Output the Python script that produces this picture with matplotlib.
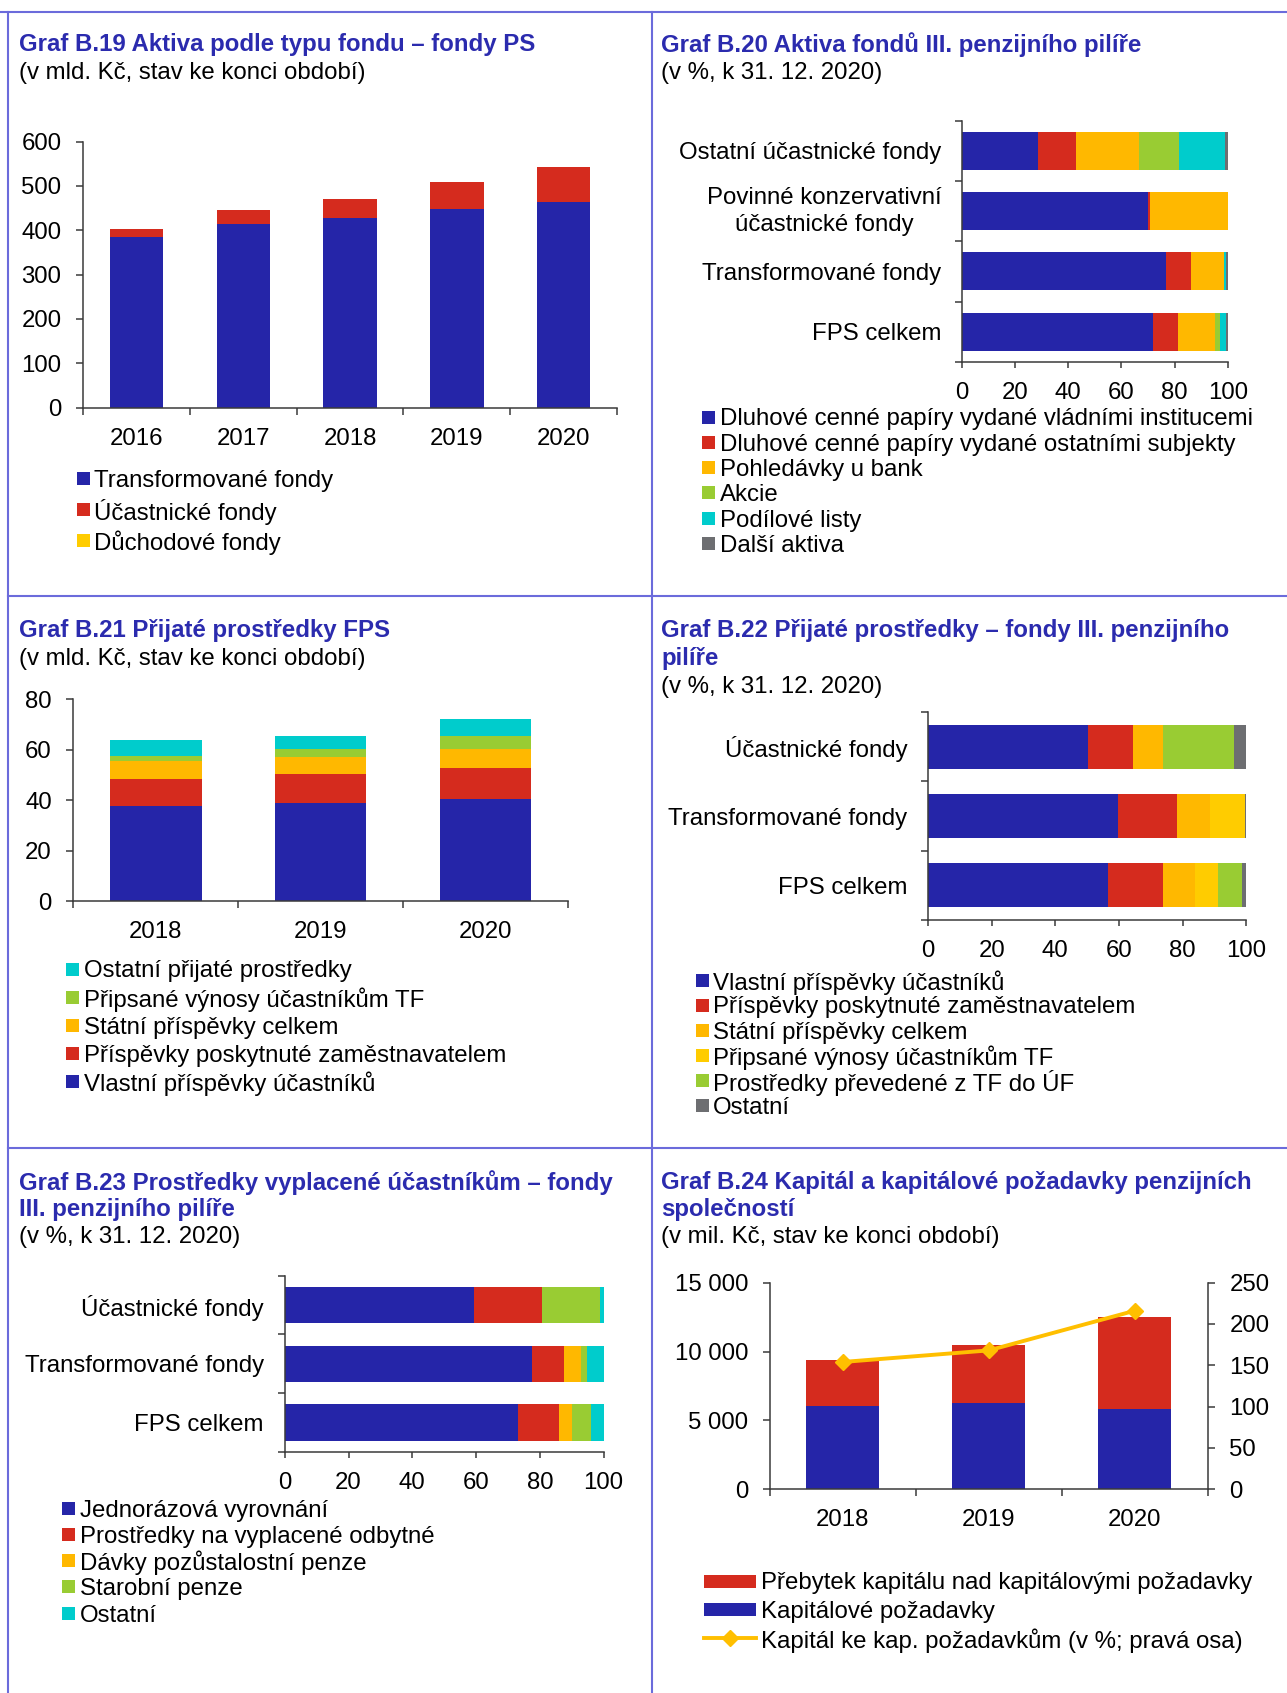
import matplotlib
matplotlib.use('Agg')
import matplotlib.pyplot as plt
from matplotlib.transforms import Affine2D
from matplotlib.patches import Rectangle
from matplotlib.lines import Line2D
import numpy as np

# ---------------- data ----------------
b19_years = ['2016', '2017', '2018', '2019', '2020']
b19_transform = [384, 414, 427, 447, 463]
b19_ucast = [19, 32, 44, 61, 79]
b19_duchod = [0, 0, 0, 0, 0]
b19_labels = ['Transformované fondy', 'Účastnické fondy', 'Důchodové fondy']

b20_cats = ['Ostatní účastnické fondy', 'Povinné konzervativní\núčastnické fondy',
            'Transformované fondy', 'FPS celkem']
b20_vladni = [28.7, 70.0, 76.9, 71.9]
b20_ostatni_subj = [14.3, 0.6, 9.3, 9.4]
b20_pohledavky = [23.8, 29.4, 12.3, 14.1]
b20_akcie = [15.0, 0.0, 0.2, 1.7]
b20_podilove = [17.1, 0.0, 0.8, 2.1]
b20_dalsi = [1.1, 0.0, 0.5, 0.8]
b20_labels = ['Dluhové cenné papíry vydané vládními institucemi',
              'Dluhové cenné papíry vydané ostatními subjekty',
              'Pohledávky u bank', 'Akcie', 'Podílové listy', 'Další aktiva']

b21_years = ['2018', '2019', '2020']
b21_vlastni = [37.9, 38.7, 40.6]
b21_zamest = [10.4, 11.5, 12.3]
b21_statni = [7.0, 7.0, 7.3]
b21_vynosy = [2.2, 3.2, 5.2]
b21_ostatni = [6.1, 5.0, 6.7]
b21_labels = ['Ostatní přijaté prostředky', 'Připsané výnosy účastníkům TF',
              'Státní příspěvky celkem', 'Příspěvky poskytnuté zaměstnavatelem',
              'Vlastní příspěvky účastníků']

b22_cats = ['Účastnické fondy', 'Transformované fondy', 'FPS celkem']
b22_vlastni = [50.1, 59.7, 56.5]
b22_zamest = [14.3, 18.6, 17.4]
b22_statni = [9.5, 10.3, 9.8]
b22_vynosy = [0.0, 11.1, 7.5]
b22_prevedene = [22.1, 0.0, 7.4]
b22_ostatni = [4.0, 0.3, 1.4]
b22_labels = ['Vlastní příspěvky účastníků', 'Příspěvky poskytnuté zaměstnavatelem',
              'Státní příspěvky celkem', 'Připsané výnosy účastníkům TF',
              'Prostředky převedené z TF do ÚF', 'Ostatní']

b23_cats = ['Účastnické fondy', 'Transformované fondy', 'FPS celkem']
b23_jednoraz = [59.3, 77.5, 73.2]
b23_odbytne = [21.3, 10.1, 12.8]
b23_pozustal = [0.0, 5.2, 4.0]
b23_starobni = [18.2, 2.1, 6.0]
b23_ostatni = [1.2, 5.1, 4.0]
b23_labels = ['Jednorázová vyrovnání', 'Prostředky na vyplacené odbytné',
              'Dávky pozůstalostní penze', 'Starobní penze', 'Ostatní']

b24_years = ['2018', '2019', '2020']
b24_pozadavky = [6080, 6230, 5800]
b24_prebytek = [3290, 4250, 6710]
b24_pomer = [154, 168, 216]
b24_labels = ['Přebytek kapitálu nad kapitálovými požadavky', 'Kapitálové požadavky',
              'Kapitál ke kap. požadavkům (v %; pravá osa)']
b24_yticks = [0, 5000, 10000, 15000]
b24_yticklabels = ['0', '5 000', '10 000', '15 000']

# ---------------- style ----------------
plt.rcParams['font.family'] = ['Liberation Sans', 'DejaVu Sans']
W, H = 1287, 1693
fig = plt.figure(figsize=(W / 100, H / 100), dpi=100)
PX = Affine2D().scale(1 / W, -1 / H).translate(0, 1) + fig.transFigure

BLUE = '#2525A8'; RED = '#D52B1E'; ORANGE = '#FFB800'; YELLOW = '#FFCC00'
GREEN = '#99CC33'; CYAN = '#00CCCC'; GRAY = '#6D6E71'
BORDER = '#6B6BDB'; TITLE = '#2B2BAE'; AXC = '#3a3a3a'; LINEC = '#FFBF00'
FS = 17.25
DY = 2.5  # vertical text offset (px)


def add_ax(x0, y0, x1, y1):
    return fig.add_axes([x0 / W, 1 - y1 / H, (x1 - x0) / W, (y1 - y0) / H])


def hline(x0, y0, x1, y1, **kw):
    fig.add_artist(Line2D([x0, x1], [y0, y1], transform=PX, **kw))


def ptext(x, y, s, **kw):
    kw.setdefault('fontsize', FS)
    kw.setdefault('va', 'center')
    fig.text(x, y + DY, s, transform=PX, **kw)


def titles(x, ys, lines):
    for i, (y, s) in enumerate(zip(ys, lines)):
        if i < len(lines) - 1:
            ptext(x, y, s, color=TITLE, fontweight='bold')
        else:
            ptext(x, y, s, color='black')


def legend(mx, tx, y0, dy, labels, colors, mw=13, mh=13):
    for i, (lab, col) in enumerate(zip(labels, colors)):
        y = y0 + i * dy
        fig.add_artist(Rectangle((mx, y - mh / 2), mw, mh, transform=PX,
                                 facecolor=col, edgecolor='none'))
        ptext(tx, y, lab, color='black')


def style(ax):
    for s in ['top', 'right']:
        ax.spines[s].set_visible(False)
    for s in ['left', 'bottom']:
        ax.spines[s].set_color(AXC)
        ax.spines[s].set_linewidth(1.1)
    ax.tick_params(which='both', colors=AXC, labelcolor='black', labelsize=FS, width=1.1)
    ax.set_facecolor('none')


def vbars(ax, cats, series, colors, width, ymax, ystep):
    x = np.arange(len(cats))
    bottom = np.zeros(len(cats))
    for vals, col in zip(series, colors):
        ax.bar(x, vals, width, bottom=bottom, color=col, edgecolor='none')
        bottom = bottom + np.array(vals)
    ax.set_xlim(-0.5, len(cats) - 0.5)
    ax.set_ylim(0, ymax)
    ax.set_yticks(np.arange(0, ymax + 1, ystep))
    ax.set_xticks(x)
    ax.set_xticklabels(cats)
    ax.set_xticks(np.arange(-0.5, len(cats), 1), minor=True)
    style(ax)
    ax.tick_params(axis='x', which='major', length=0, pad=14.4)
    ax.tick_params(axis='x', which='minor', length=5, direction='out')
    ax.tick_params(axis='y', which='major', length=5, direction='out', pad=10.5)


def hbars(ax, cats, series, colors, height):
    y = np.arange(len(cats))
    left = np.zeros(len(cats))
    for vals, col in zip(series, colors):
        ax.barh(y, vals, height, left=left, color=col, edgecolor='none')
        left = left + np.array(vals)
    ax.set_ylim(len(cats) - 0.5, -0.5)
    ax.set_xlim(0, 100)
    ax.set_xticks(range(0, 101, 20))
    ax.set_yticks(y)
    ax.set_yticklabels(cats, multialignment='center', linespacing=1.3)
    for lab in ax.get_yticklabels():
        if '\n' in lab.get_text():
            lab.set_verticalalignment('center')
    ax.set_yticks(np.arange(-0.5, len(cats), 1), minor=True)
    style(ax)
    ax.tick_params(axis='y', which='major', length=0, pad=15)
    ax.tick_params(axis='y', which='minor', length=4.7, direction='out')
    ax.tick_params(axis='x', which='major', length=4.5, direction='out', pad=10)


# ---------------- frame ----------------
bkw = dict(color=BORDER, linewidth=1.5)
hline(0, 12, W, 12, **bkw)
hline(8, 12, 8, H, **bkw)
hline(652, 12, 652, H, **bkw)
hline(8, 596, W, 596, **bkw)
hline(8, 1148, W, 1148, **bkw)

# ---------------- B.19 ----------------
titles(18.7, [42, 71], ['Graf B.19 Aktiva podle typu fondu – fondy PS',
                        '(v mld. Kč, stav ke konci období)'])
ax = add_ax(83, 141.6, 617, 407.6)
vbars(ax, b19_years, [b19_transform, b19_ucast, b19_duchod], [BLUE, RED, YELLOW], 0.5, 600, 100)
legend(77, 94.5, 478, 31.3, b19_labels, [BLUE, RED, YELLOW])

# ---------------- B.20 ----------------
titles(661, [42, 71], ['Graf B.20 Aktiva fondů III. penzijního pilíře',
                       '(v %, k 31. 12. 2020)'])
ax = add_ax(962, 120.5, 1227.7, 362)
hbars(ax, b20_cats, [b20_vladni, b20_ostatni_subj, b20_pohledavky, b20_akcie, b20_podilove, b20_dalsi],
      [BLUE, RED, ORANGE, GREEN, CYAN, GRAY], 0.63)
legend(702, 720, 417, 25.3, b20_labels, [BLUE, RED, ORANGE, GREEN, CYAN, GRAY])

# ---------------- B.21 ----------------
titles(18.7, [628, 656], ['Graf B.21 Přijaté prostředky FPS',
                          '(v mld. Kč, stav ke konci období)'])
ax = add_ax(73.4, 699, 568, 901.4)
vbars(ax, b21_years, [b21_vlastni, b21_zamest, b21_statni, b21_vynosy, b21_ostatni],
      [BLUE, RED, ORANGE, GREEN, CYAN], 0.555, 80, 20)
legend(66, 84, 969, 28.1, b21_labels, [CYAN, GREEN, ORANGE, RED, BLUE])

# ---------------- B.22 ----------------
titles(661, [628, 656, 684], ['Graf B.22 Přijaté prostředky – fondy III. penzijního',
                              'pilíře', '(v %, k 31. 12. 2020)'])
ax = add_ax(928, 712, 1246.4, 920)
hbars(ax, b22_cats, [b22_vlastni, b22_zamest, b22_statni, b22_vynosy, b22_prevedene, b22_ostatni],
      [BLUE, RED, ORANGE, YELLOW, GREEN, GRAY], 0.63)
legend(695.5, 713, 980, 25, b22_labels, [BLUE, RED, ORANGE, YELLOW, GREEN, GRAY])

# ---------------- B.23 ----------------
titles(18.7, [1180.5, 1207, 1235], ['Graf B.23 Prostředky vyplacené účastníkům – fondy',
                                    'III. penzijního pilíře', '(v %, k 31. 12. 2020)'])
ax = add_ax(284.8, 1275.7, 603.6, 1452)
hbars(ax, b23_cats, [b23_jednoraz, b23_odbytne, b23_pozustal, b23_starobni, b23_ostatni],
      [BLUE, RED, ORANGE, GREEN, CYAN], 0.62)
legend(62, 79.6, 1508, 26.3, b23_labels, [BLUE, RED, ORANGE, GREEN, CYAN])

# ---------------- B.24 ----------------
titles(661, [1180.5, 1207, 1235], ['Graf B.24 Kapitál a kapitálové požadavky penzijních',
                                   'společností', '(v mil. Kč, stav ke konci období)'])
ax = add_ax(769.8, 1282.6, 1207.8, 1489.3)
vbars(ax, b24_years, [b24_pozadavky, b24_prebytek], [BLUE, RED], 0.5, 15000, 5000)
ax.set_yticks(b24_yticks)
ax.set_yticklabels(b24_yticklabels)
ax2 = ax.twinx()
ax2.plot(np.arange(len(b24_years)), b24_pomer, color=LINEC, linewidth=2.8,
         marker='D', markersize=8, markerfacecolor=LINEC, markeredgecolor=LINEC)
ax2.set_ylim(0, 250)
ax2.set_yticks(range(0, 251, 50))
for s in ['top', 'left', 'bottom']:
    ax2.spines[s].set_visible(False)
ax2.spines['right'].set_color(AXC)
ax2.spines['right'].set_linewidth(1.1)
ax2.tick_params(axis='y', colors=AXC, labelcolor='black', labelsize=FS, width=1.1,
                length=5, direction='out', pad=10.5)

# legend B.24
ly = [1581, 1609.5, 1638]
for y, col in zip(ly[:2], [RED, BLUE]):
    fig.add_artist(Rectangle((704, y - 6.5), 51.6, 13, transform=PX, facecolor=col, edgecolor='none'))
fig.add_artist(Line2D([704, 755.6], [ly[2], ly[2]], transform=PX, color=LINEC, linewidth=2.8))
fig.add_artist(Line2D([729.8], [ly[2]], transform=PX, color=LINEC, marker='D', markersize=8))
for y, lab in zip(ly, b24_labels):
    ptext(761, y, lab, color='black')

fig.savefig('out.png', dpi=100, facecolor='white')
